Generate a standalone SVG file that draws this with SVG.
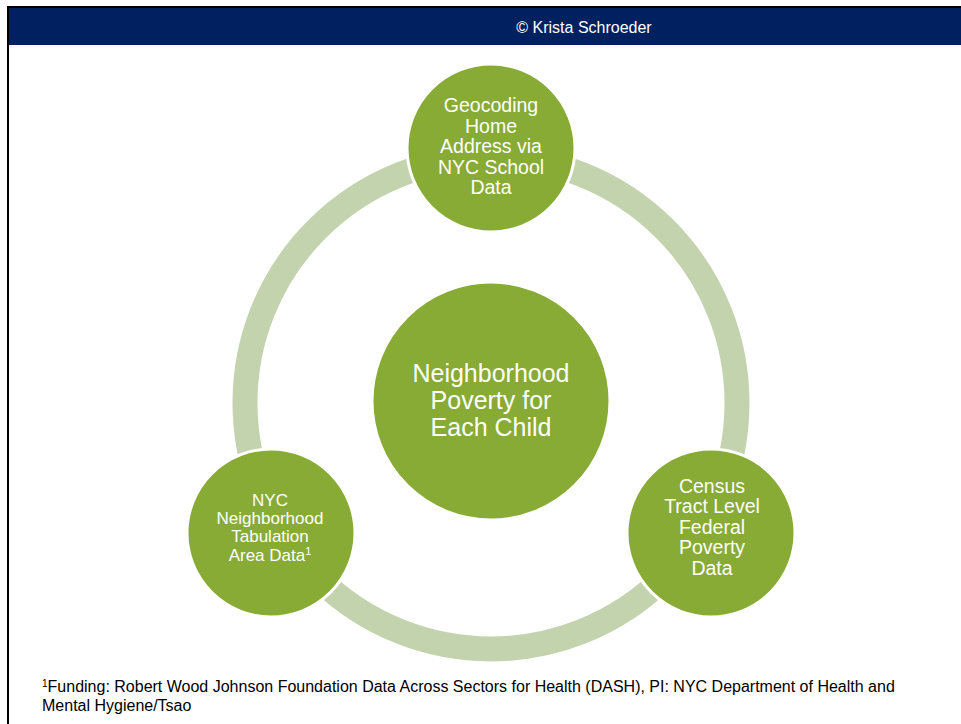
<svg xmlns="http://www.w3.org/2000/svg" width="961" height="724" viewBox="0 0 961 724">
  <style>
    .node { fill: #87ab35; stroke: #ffffff; stroke-width: 3; }
    .label { font-family: "Liberation Sans", Arial, sans-serif; fill: #ffffff; text-anchor: middle; }
    .foot { font-family: "Liberation Sans", Arial, sans-serif; fill: #000000; font-size: 16px; }
  </style>
  <rect x="0" y="0" width="961" height="724" fill="#ffffff"/>

  <!-- slide frame -->
  <rect x="7" y="6" width="954" height="2" fill="#000000"/>
  <rect x="7" y="6" width="2" height="718" fill="#000000"/>

  <!-- header band -->
  <g id="header">
    <rect x="9" y="8" width="952" height="37" fill="#002060"/>
    <text x="584" y="33" font-family="'Liberation Sans', Arial, sans-serif" font-size="16" fill="#ffffff" text-anchor="middle">© Krista Schroeder</text>
  </g>

  <!-- cycle ring linking the outer nodes -->
  <g id="connectors">
    <circle cx="491" cy="403" r="246" fill="none" stroke="#c3d3ae" stroke-width="25"/>
  </g>

  <g id="node-center">
    <circle class="node" cx="491" cy="401" r="119"/>
    <g class="label" font-size="25">
      <text x="491" y="382">Neighborhood</text>
      <text x="491" y="409">Poverty for</text>
      <text x="491" y="436">Each Child</text>
    </g>
  </g>

  <g id="node-geocoding">
    <circle class="node" cx="491" cy="148" r="84"/>
    <g class="label" font-size="19.5">
      <text x="491" y="112">Geocoding</text>
      <text x="491" y="133">Home</text>
      <text x="491" y="153">Address via</text>
      <text x="491" y="174">NYC School</text>
      <text x="491" y="194">Data</text>
    </g>
  </g>

  <g id="node-nta">
    <circle class="node" cx="271" cy="533" r="84"/>
    <g class="label" font-size="17">
      <text x="270" y="506">NYC</text>
      <text x="270" y="524">Neighborhood</text>
      <text x="270" y="542">Tabulation</text>
      <text x="270" y="561">Area Data<tspan font-size="11" dy="-6">1</tspan></text>
    </g>
  </g>

  <g id="node-census">
    <circle class="node" cx="711" cy="533" r="84"/>
    <g class="label" font-size="19.5">
      <text x="712" y="493">Census</text>
      <text x="712" y="513">Tract Level</text>
      <text x="712" y="534">Federal</text>
      <text x="712" y="554">Poverty</text>
      <text x="712" y="575">Data</text>
    </g>
  </g>

  <!-- footnote -->
  <g id="footnote">
    <text class="foot" x="42" y="692"><tspan font-size="10" dy="-5">1</tspan><tspan dy="5">Funding: Robert Wood Johnson Foundation Data Across Sectors for Health (DASH), PI: NYC Department of Health and</tspan></text>
    <text class="foot" x="42" y="711">Mental Hygiene/Tsao</text>
  </g>
</svg>
